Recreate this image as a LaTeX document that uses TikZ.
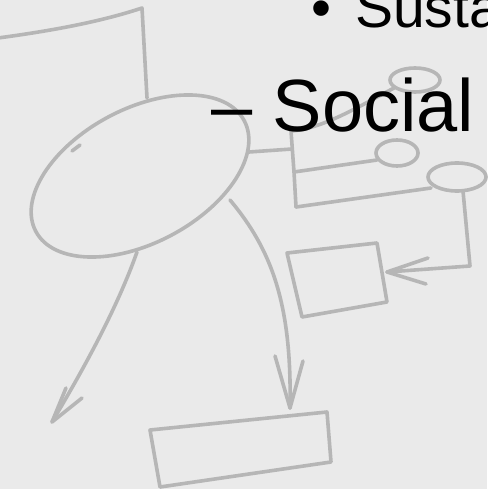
\documentclass[tikz,border=0pt]{standalone}
\usepackage{fontspec}
\setmainfont{Liberation Sans}
\usetikzlibrary{shapes.geometric}
\definecolor{bgpaper}{RGB}{234,234,234}
\definecolor{sketch}{RGB}{182,182,182}
\tikzset{
  sk/.style={draw=sketch, line width=3.6pt, line cap=round, line join=round},
  skell/.style={sk, ellipse, inner sep=0pt},
  bigtext/.style={font=\fontsize{74}{80}\selectfont, inner sep=0pt, anchor=base west, text=black},
  midtext/.style={font=\fontsize{57}{62}\selectfont, inner sep=0pt, anchor=base west, text=black}
}
\begin{document}
\begin{tikzpicture}[x=1pt,y=-1pt]
\fill[bgpaper] (0,0) rectangle (487,489);
\useasboundingbox (0,0) rectangle (487,489);

% top-left sketch
\coordinate (tl0) at (-2,38);
\coordinate (tl1) at (142,8);
\coordinate (tl2) at (147,98);
\draw[sk] (tl0) .. controls (50,31) and (100,22) .. (tl1) -- (tl2);

% big ellipse
\node[skell, minimum width=236pt, minimum height=134pt, rotate=28] (bigE) at (140,176) {};
\draw[sk] (72,151) -- (80,145);

% branch from big ellipse to tree
\coordinate (e1) at (249,152);
\coordinate (t0) at (292,149);
\draw[sk] (e1) -- (t0);

% tree vertical
\coordinate (vtop) at (291,131);
\coordinate (vmid) at (294,172);
\coordinate (vbot) at (296,207);
\draw[sk] (vtop) -- (vmid) -- (vbot);

% small ellipses
\node[skell, minimum width=50pt, minimum height=24pt] (topE) at (415,80) {};
\node[skell, minimum width=42pt, minimum height=26pt] (midE) at (397,153) {};
\node[skell, minimum width=58pt, minimum height=28pt] (rightE) at (457,177) {};

\coordinate (topEin) at (394,88);
\coordinate (midEin) at (377,160);
\coordinate (rightEin) at (431,188);
\draw[sk] (vtop) .. controls (322,129) and (360,106) .. (topEin);
\draw[sk] (vmid) -- (midEin);
\draw[sk] (vbot) -- (rightEin);

% right connector with arrow to middle box
\coordinate (rv0) at (463,191);
\coordinate (rv1) at (470,266);
\coordinate (rtip) at (387,272);
\coordinate (rb1) at (428,258);
\coordinate (rb2) at (426,284);
\draw[sk] (rv0) -- (rv1) -- (rtip);
\draw[sk] (rb1) -- (rtip) -- (rb2);

% middle box
\coordinate (m1) at (287,253);
\coordinate (m2) at (377,243);
\coordinate (m3) at (387,302);
\coordinate (m4) at (302,317);
\draw[sk] (m1) -- (m2) -- (m3) -- (m4) -- cycle;

% curved arrow to bottom box
\coordinate (c0) at (230,200);
\coordinate (ctip) at (290,408);
\coordinate (cb1) at (275,356);
\coordinate (cb2) at (303,361);
\draw[sk] (c0) .. controls (272,250) and (292,305) .. (ctip);
\draw[sk] (cb1) -- (ctip) -- (cb2);

% left arrow
\coordinate (l0) at (137,252);
\coordinate (ltip) at (52,422);
\coordinate (lb1) at (66,388);
\coordinate (lb2) at (82,398);
\draw[sk] (l0) .. controls (120,300) and (92,355) .. (ltip);
\draw[sk] (lb1) -- (ltip) -- (lb2);

% bottom box
\coordinate (b1) at (150,430);
\coordinate (b2) at (327,412);
\coordinate (b3) at (331,462);
\coordinate (b4) at (160,487);
\draw[sk] (b1) -- (b2) -- (b3) -- (b4) -- cycle;

% text
\node[midtext] (bul) at (311,28) {•};
\node[midtext] (susta) at (355,28) {Susta};
\node[bigtext] (social) at (211,132) {– Social};
\end{tikzpicture}
\end{document}
